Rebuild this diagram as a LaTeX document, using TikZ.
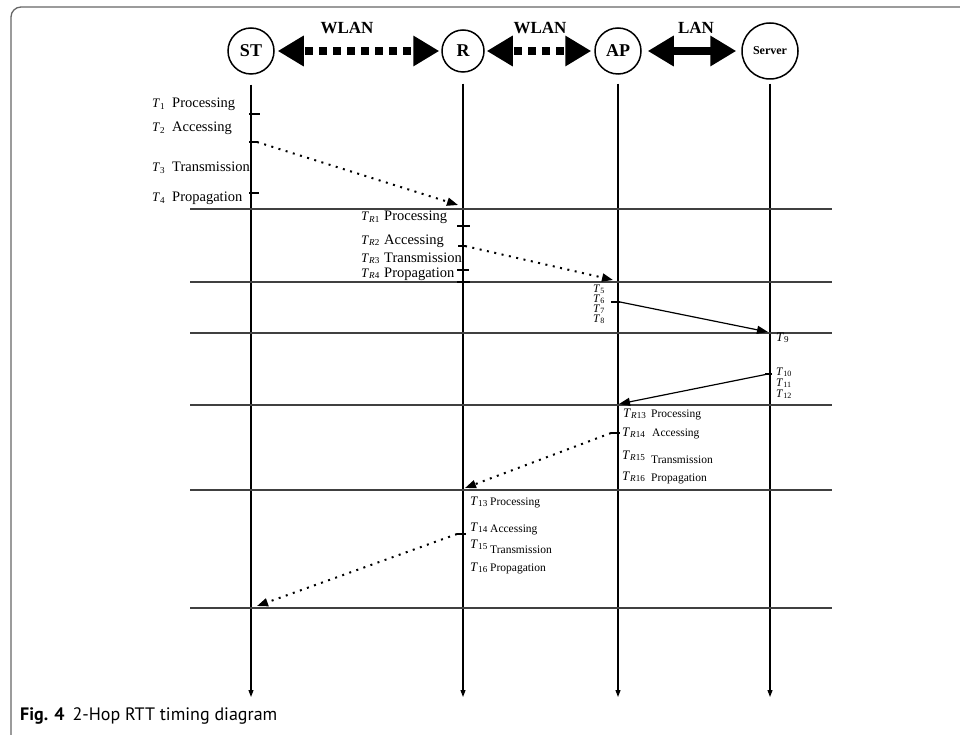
\documentclass[tikz,border=0pt]{standalone}
\usepackage{fontspec}
\setmainfont{Liberation Serif}
\setsansfont{PT Sans}
\usetikzlibrary{arrows.meta}

\newcommand{\Tsub}[1]{\textit{T}\textsubscript{#1}}
\newcommand{\TRsub}[1]{\textit{T}\textsubscript{\textit{R}#1}}

\begin{document}
\begin{tikzpicture}[x=1pt, y=-1pt, >={Triangle[length=11pt,width=8pt]},
        every node/.append style={inner sep=0pt}]
      \tikzstyle{host} = [circle, draw, line width=1.5pt, font=\bfseries\fontsize{18}{18}\selectfont]
      \tikzstyle{link} = [line width=8pt, {Triangle[length=26pt,width=29pt]}-{Triangle[length=26pt,width=29pt]}]
      \tikzstyle{life} = [line width=1.1pt, -{Triangle[length=7pt,width=5pt]}]
      \tikzstyle{slot} = [draw=black!75, line width=1.1pt]
      \tikzstyle{tick} = [line width=1.1pt]
      \tikzstyle{wmsg} = [line width=2pt, dash pattern=on 2pt off 5.5pt, ->]
      \tikzstyle{lmsg} = [line width=1.2pt, ->]
      \tikzstyle{big} = [font=\fontsize{14.5}{14.5}\selectfont, anchor=base west]
      \tikzstyle{small} = [font=\fontsize{11.5}{11.5}\selectfont, anchor=base west]
      \tikzstyle{tlab} = [font=\fontsize{13}{13}\selectfont, anchor=base west]
      \tikzstyle{tight} = [font=\fontsize{11.5}{11.5}\selectfont]
      \tikzstyle{netname} = [font=\bfseries\fontsize{17}{17}\selectfont, anchor=base]
      \useasboundingbox (0,0) rectangle (960,735);
      \draw[black!60, line width=1.3pt, rounded corners=10pt] (11,735) -- (11,7) -- (960,7);

      \node (ST) [host, minimum size=46pt] at (251,51) {ST};
      \node (R) [host, minimum size=42pt] at (463,51) {R};
      \node (AP) [host, minimum size=46pt] at (618,51) {AP};
      \node (SV) [host, minimum size=56pt, font=\bfseries\fontsize{12}{12}\selectfont] at (770,51) {Server};

      \draw[link, dash pattern=on 8pt off 6pt, dash phase=-3pt, shorten <=3pt, shorten >=2pt] (ST) -- (R);
      \draw[link, dash pattern=on 8pt off 6pt, dash phase=-3pt, shorten <=2pt, shorten >=3pt] (R) -- (AP);
      \draw[link, shorten <=6pt, shorten >=5pt] (AP) -- (SV);
      \node (wl1) [netname] at (347,34) {WLAN};
      \node (wl2) [netname] at (540,34) {WLAN};
      \node (lan) [netname] at (696,34) {LAN};

      \coordinate (STe) at (251,697);
      \coordinate (Re) at (463,697);
      \coordinate (APe) at (618,697);
      \coordinate (SVe) at (770,697);
      \draw[life, shorten <=10pt] (ST.south) -- (STe);
      \draw[life, shorten <=11pt] (R.south) -- (Re);
      \draw[life, shorten <=9pt] (AP.south) -- (APe);
      \draw[life, shorten <=4pt] (SV.south) -- (SVe);

      \draw[slot] (190,209) -- (832,209);
      \draw[slot] (190,282) -- (832,282);
      \draw[slot] (190,333) -- (832,333);
      \draw[slot] (190,405) -- (832,405);
      \draw[slot] (190,490) -- (832,490);
      \draw[slot] (190,608) -- (832,608);

      \draw[tick] (249,114) -- (260,114);
      \draw[tick] (249,142) -- (257,142);
      \draw[tick] (249,193) -- (259,193);
      \draw[tick] (457,226) -- (470,226);
      \draw[tick] (458,246) -- (465,246);
      \draw[tick] (457,270) -- (469,270);
      \draw[tick] (457,282) -- (470,282);
      \draw[tick] (611,302) -- (620,302);
      \draw[tick] (765,374) -- (772,374);
      \draw[tick] (611,433) -- (620,433);
      \draw[tick] (457,534) -- (466,534);

      \coordinate (m1a) at (257,142);
      \coordinate (m1b) at (458,205);
      \coordinate (m2a) at (465,246);
      \coordinate (m2b) at (613,280);
      \coordinate (m3a) at (620,302);
      \coordinate (m3b) at (768,332);
      \coordinate (m4a) at (768,374);
      \coordinate (m4b) at (619,404);
      \coordinate (m5a) at (611,433);
      \coordinate (m5b) at (465,488);
      \coordinate (m6a) at (457,534);
      \coordinate (m6b) at (257,606);
      \draw[wmsg] (m1a) -- (m1b);
      \draw[wmsg] (m2a) -- (m2b);
      \draw[lmsg] (m3a) -- (m3b);
      \draw[lmsg] (m4a) -- (m4b);
      \draw[wmsg] (m5a) -- (m5b);
      \draw[wmsg] (m6a) -- (m6b);

      \node (t1) [tlab] at (152,108) {\Tsub{1}};
      \node (p1) [big] at (172,108) {Processing};
      \node (t2) [tlab] at (152,132) {\Tsub{2}};
      \node (a2) [big] at (172,132) {Accessing};
      \node (t3) [tlab] at (152,172) {\Tsub{3}};
      \node (x3) [big] at (172,172) {Transmission};
      \node (t4) [tlab] at (152,202) {\Tsub{4}};
      \node (g4) [big] at (172,202) {Propagation};

      \node (tr1) [tlab] at (361,221) {\TRsub{1}};
      \node (pr1) [big] at (384,221) {Processing};
      \node (tr2) [tlab] at (361,244) {\TRsub{2}};
      \node (ar2) [big] at (384,244) {Accessing};
      \node (tr3) [tlab] at (361,262) {\TRsub{3}};
      \node (xr3) [big] at (384,262) {Transmission};
      \node (tr4) [tlab] at (361,277) {\TRsub{4}};
      \node (gr4) [big] at (384,277) {Propagation};

      \node (t5) [tlab, tight, anchor=base east] at (605,292) {\Tsub{5}};
      \node (t6) [tlab, tight, anchor=base east] at (605,302) {\Tsub{6}};
      \node (t7) [tlab, tight, anchor=base east] at (605,312) {\Tsub{7}};
      \node (t8) [tlab, tight, anchor=base east] at (605,322) {\Tsub{8}};

      \node (t9) [tlab] at (776,341) {\Tsub{9}};
      \node (t10) [tlab, tight] at (776,375) {\Tsub{10}};
      \node (t11) [tlab, tight] at (776,386) {\Tsub{11}};
      \node (t12) [tlab, tight] at (776,397) {\Tsub{12}};

      \node (tr13) [tlab] at (623,417) {\TRsub{13}};
      \node (pr13) [small] at (651,417) {Processing};
      \node (tr14) [tlab] at (622,436) {\TRsub{14}};
      \node (ar14) [small] at (652,436) {Accessing};
      \node (tr15) [tlab] at (622,459) {\TRsub{15}};
      \node (xr15) [small] at (651,463) {Transmission};
      \node (tr16) [tlab] at (622,480) {\TRsub{16}};
      \node (gr16) [small] at (651,481) {Propagation};

      \node (t13) [tlab] at (470,505) {\Tsub{13}};
      \node (p13) [small] at (490,505) {Processing};
      \node (t14) [tlab] at (470,531) {\Tsub{14}};
      \node (a14) [small] at (490,532) {Accessing};
      \node (t15) [tlab] at (470,548) {\Tsub{15}};
      \node (x15) [small] at (490,553) {Transmission};
      \node (t16) [tlab] at (470,571) {\Tsub{16}};
      \node (g16) [small] at (490,571) {Propagation};

      \node (cap) [font=\sffamily\fontsize{18}{18}\selectfont, anchor=base west] at (20,720)
        {\textbf{Fig. 4}\hspace{8pt}2-Hop RTT timing diagram};
    \end{tikzpicture}
\end{document}
